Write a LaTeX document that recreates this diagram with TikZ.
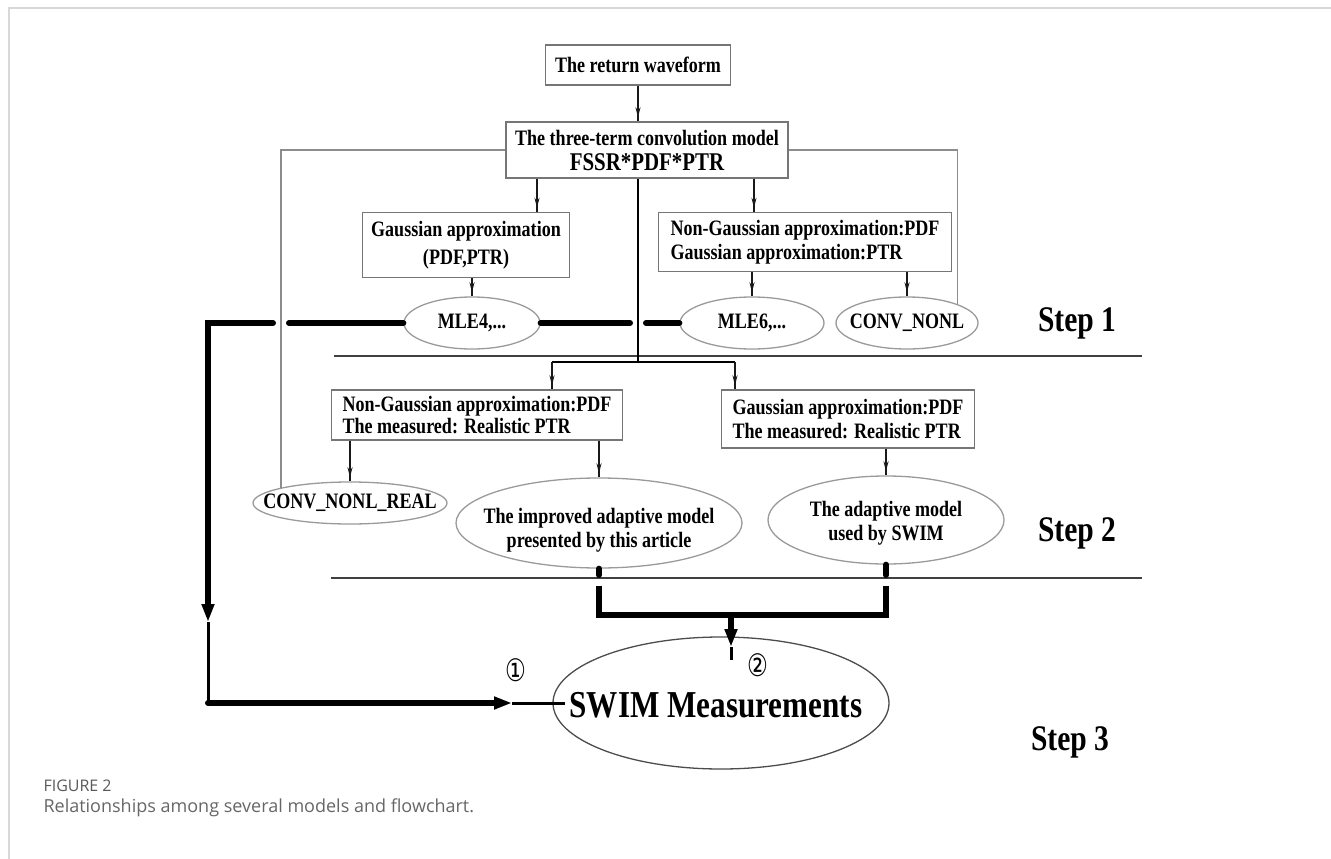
\documentclass[tikz,border=0pt]{standalone}
\usepackage{fontspec}
\setmainfont{Liberation Serif}[FakeStretch=0.82]
\newfontfamily\capfont{Open Sans}
\newfontfamily\circfont{DejaVu Sans}
\usetikzlibrary{shapes.geometric, arrows.meta, decorations.markings}
\definecolor{boxgray}{HTML}{767676}
\definecolor{ovalgray}{HTML}{9A9A9A}
\definecolor{linkgray}{HTML}{8C8C8C}
\definecolor{capgray}{HTML}{666666}
\definecolor{framegray}{HTML}{D8D8D8}
\newcommand{\bsize}{\fontsize{22}{24}\selectfont\bfseries}
\newcommand{\circled}[1]{\scalebox{0.75}[1]{\circfont\fontsize{31}{33}\selectfont #1}}

\begin{document}
\begin{tikzpicture}[
        x=1pt, y=-1pt,
        box/.style={draw=boxgray, line width=1.4pt, rectangle, inner sep=0pt, font=\bsize},
        oval/.style={draw=ovalgray, line width=1.3pt, ellipse, inner sep=0pt},
        ovaltext/.style={font=\bsize, align=center},
        flow/.style={draw=black!90, line width=1.8pt, postaction={decorate},
            decoration={markings, mark=at position -4pt with {\arrow{Stealth[length=10pt,width=5pt]}}}},
        trunk/.style={draw=black, line width=2.4pt},
        heavy/.style={draw=black, line width=6pt, line cap=round},
        lean/.style={draw=black, line width=3pt},
        bigtip/.style={-{Triangle[length=18pt,width=12pt]}},
        link/.style={draw=linkgray, line width=1.3pt},
        rule/.style={draw=black!75, line width=1.5pt},
        steplabel/.style={font=\fontsize{36}{38}\selectfont\bfseries}]

    \useasboundingbox (0,0) rectangle (1331,859);
    \draw[framegray, line width=1.5pt] (1331,8) -- (9,8) -- (9,859);

    % step 1
    \node[box, minimum width=185pt, minimum height=40pt] (wave) at (638,65) {The return waveform};
    \node[box, minimum width=282pt, minimum height=56pt, align=center] (conv) at (647,150)
        {The three-term convolution model\\[1pt]{\fontsize{25.5}{26}\selectfont FSSR*PDF*PTR\hspace{12pt}}};
    \node[box, minimum width=207pt, minimum height=65pt, align=center] (gauss) at (466,245)
        {Gaussian approximation\\[4pt](PDF,PTR)};
    \node[box, minimum width=293pt, minimum height=59pt, align=left] (nongauss) at (805,242)
        {Non-Gaussian approximation:PDF\\Gaussian approximation:PTR};

    \node[oval, minimum width=136pt, minimum height=52pt, label={[ovaltext]center:MLE4,...}] (mle4) at (472,323) {};
    \node[oval, minimum width=144pt, minimum height=52pt, label={[ovaltext]center:MLE6,...}] (mle6) at (752,323) {};
    \node[oval, minimum width=142pt, minimum height=52pt, label={[ovaltext]center:CONV\_NONL}] (cnonl) at (907,323) {};

    % step 2
    \node[box, minimum width=291pt, minimum height=50pt, align=left] (realng) at (477,415)
        {Non-Gaussian approximation:PDF\\[-2pt]The measured: Realistic PTR};
    \node[box, minimum width=253pt, minimum height=58pt, align=left] (realg) at (848,419)
        {Gaussian approximation:PDF\\The measured: Realistic PTR};

    \node[oval, minimum width=194pt, minimum height=42pt, label={[ovaltext]center:CONV\_NONL\_REAL}] (cnreal) at (350,503) {};
    \node[oval, minimum width=286pt, minimum height=90pt,
        label={[ovaltext, yshift=-7pt]center:The improved adaptive model\\presented by this article}] (imp) at (599,523) {};
    \node[oval, minimum width=236pt, minimum height=88pt,
        label={[ovaltext, yshift=-3pt]center:The adaptive model\\used by SWIM}] (adp) at (886,520) {};

    % step 3
    \node[oval, draw=black!70, minimum width=336pt, minimum height=132pt,
        label={[font=\fontsize{38}{40}\selectfont\bfseries, xshift=-5pt, yshift=-2pt]center:SWIM Measurements}] (swim) at (721,703) {};
    \node (c1) at (516,670) {\circled{①}};
    \node (c2) at (758,665) {\circled{②}};

    \node[steplabel] (s1) at (1077,323) {Step 1};
    \node[steplabel] (s2) at (1077,533) {Step 2};
    \node[steplabel] (s3) at (1070,742) {Step 3};

    \coordinate (r1a) at (334,356);
    \coordinate (r1b) at (1142,356);
    \coordinate (r2a) at (331,578);
    \coordinate (r2b) at (1142,578);
    \draw[rule] (r1a) -- (r1b);
    \draw[rule] (r2a) -- (r2b);

    % x positions of the arrows
    \coordinate (xg) at (537,0);
    \coordinate (xn) at (754,0);
    \coordinate (xa) at (552,0);
    \coordinate (xb) at (735,0);
    \coordinate (fork) at (638,362);

    \draw[flow] (wave.south) -- (wave.south |- conv.north);
    \draw[flow] (conv.south -| xg) -- (gauss.north -| xg);
    \draw[flow] (conv.south -| xn) -- (nongauss.north -| xn);
    \draw[flow] (gauss.south -| mle4) -- (mle4.north);
    \draw[flow] (nongauss.south -| mle6) -- (mle6.north);
    \draw[flow] (nongauss.south -| cnonl) -- (cnonl.north);

    \draw[trunk] (conv.south -| wave.south) -- (fork);
    \draw[trunk] (fork -| xa) -- (fork -| xb);
    \draw[flow] (fork -| xa) -- (realng.north -| xa);
    \draw[flow] (fork -| xb) -- (realg.north -| xb);

    \draw[flow] (realng.south -| cnreal) -- (cnreal.north);
    \draw[flow] (realng.south -| imp) -- (imp.north);
    \draw[flow] (realg.south -| adp) -- (adp.north);

    % thin links round the sides
    \draw[link] (conv.west) -| (cnreal.north west);
    \draw[link] (conv.east) -| (cnonl.north east);

    % heavy path 1
    \coordinate (lcorner) at (208,323);
    \coordinate (jumpL) at (273,323);
    \coordinate (jumpR) at (289,323);
    \coordinate (midL) at (630,323);
    \coordinate (midR) at (646,323);
    \coordinate (vdrop) at (208,622);
    \coordinate (lbottom) at (208,703);
    \coordinate (htip) at (512,703);
    \coordinate (swimin) at (565,703);

    \draw[heavy] (mle6.west) -- (midR);
    \draw[heavy] (midL) -- (mle4.east);
    \draw[heavy] (mle4.west) -- (jumpR);
    \draw[heavy, bigtip] (jumpL) -- (lcorner) -- (vdrop);
    \draw[lean] (vdrop) -- (lbottom);
    \draw[heavy, bigtip] (lbottom) -- (htip);
    \draw[lean] (htip) -- (swimin);

    % heavy path 2
    \coordinate (cutA) at (0,575);
    \coordinate (cutB) at (0,586);
    \coordinate (joinY) at (0,615);
    \coordinate (merge) at (731,615);
    \coordinate (mtip) at (731,647);
    \coordinate (swimtop) at (731,660);

    \draw[heavy] (imp.south) -- (imp.south |- cutA);
    \draw[heavy] (adp.south) -- (adp.south |- cutA);
    \draw[heavy, line cap=butt] (imp.south |- cutB) |- (adp.south |- joinY) -- (adp.south |- cutB);
    \draw[heavy, line cap=butt, bigtip] (merge) -- (mtip);
    \draw[lean] (mtip) -- (swimtop);

    % caption
    \node[anchor=west, font=\capfont\fontsize{16}{18}\selectfont, text=black!65] (figno) at (40,786) {FIGURE 2};
    \node[anchor=west, font=\capfont\fontsize{18}{21}\selectfont, text=capgray] (figcap) at (40,808)
        {Relationships among several models and flowchart.};
\end{tikzpicture}
\end{document}
